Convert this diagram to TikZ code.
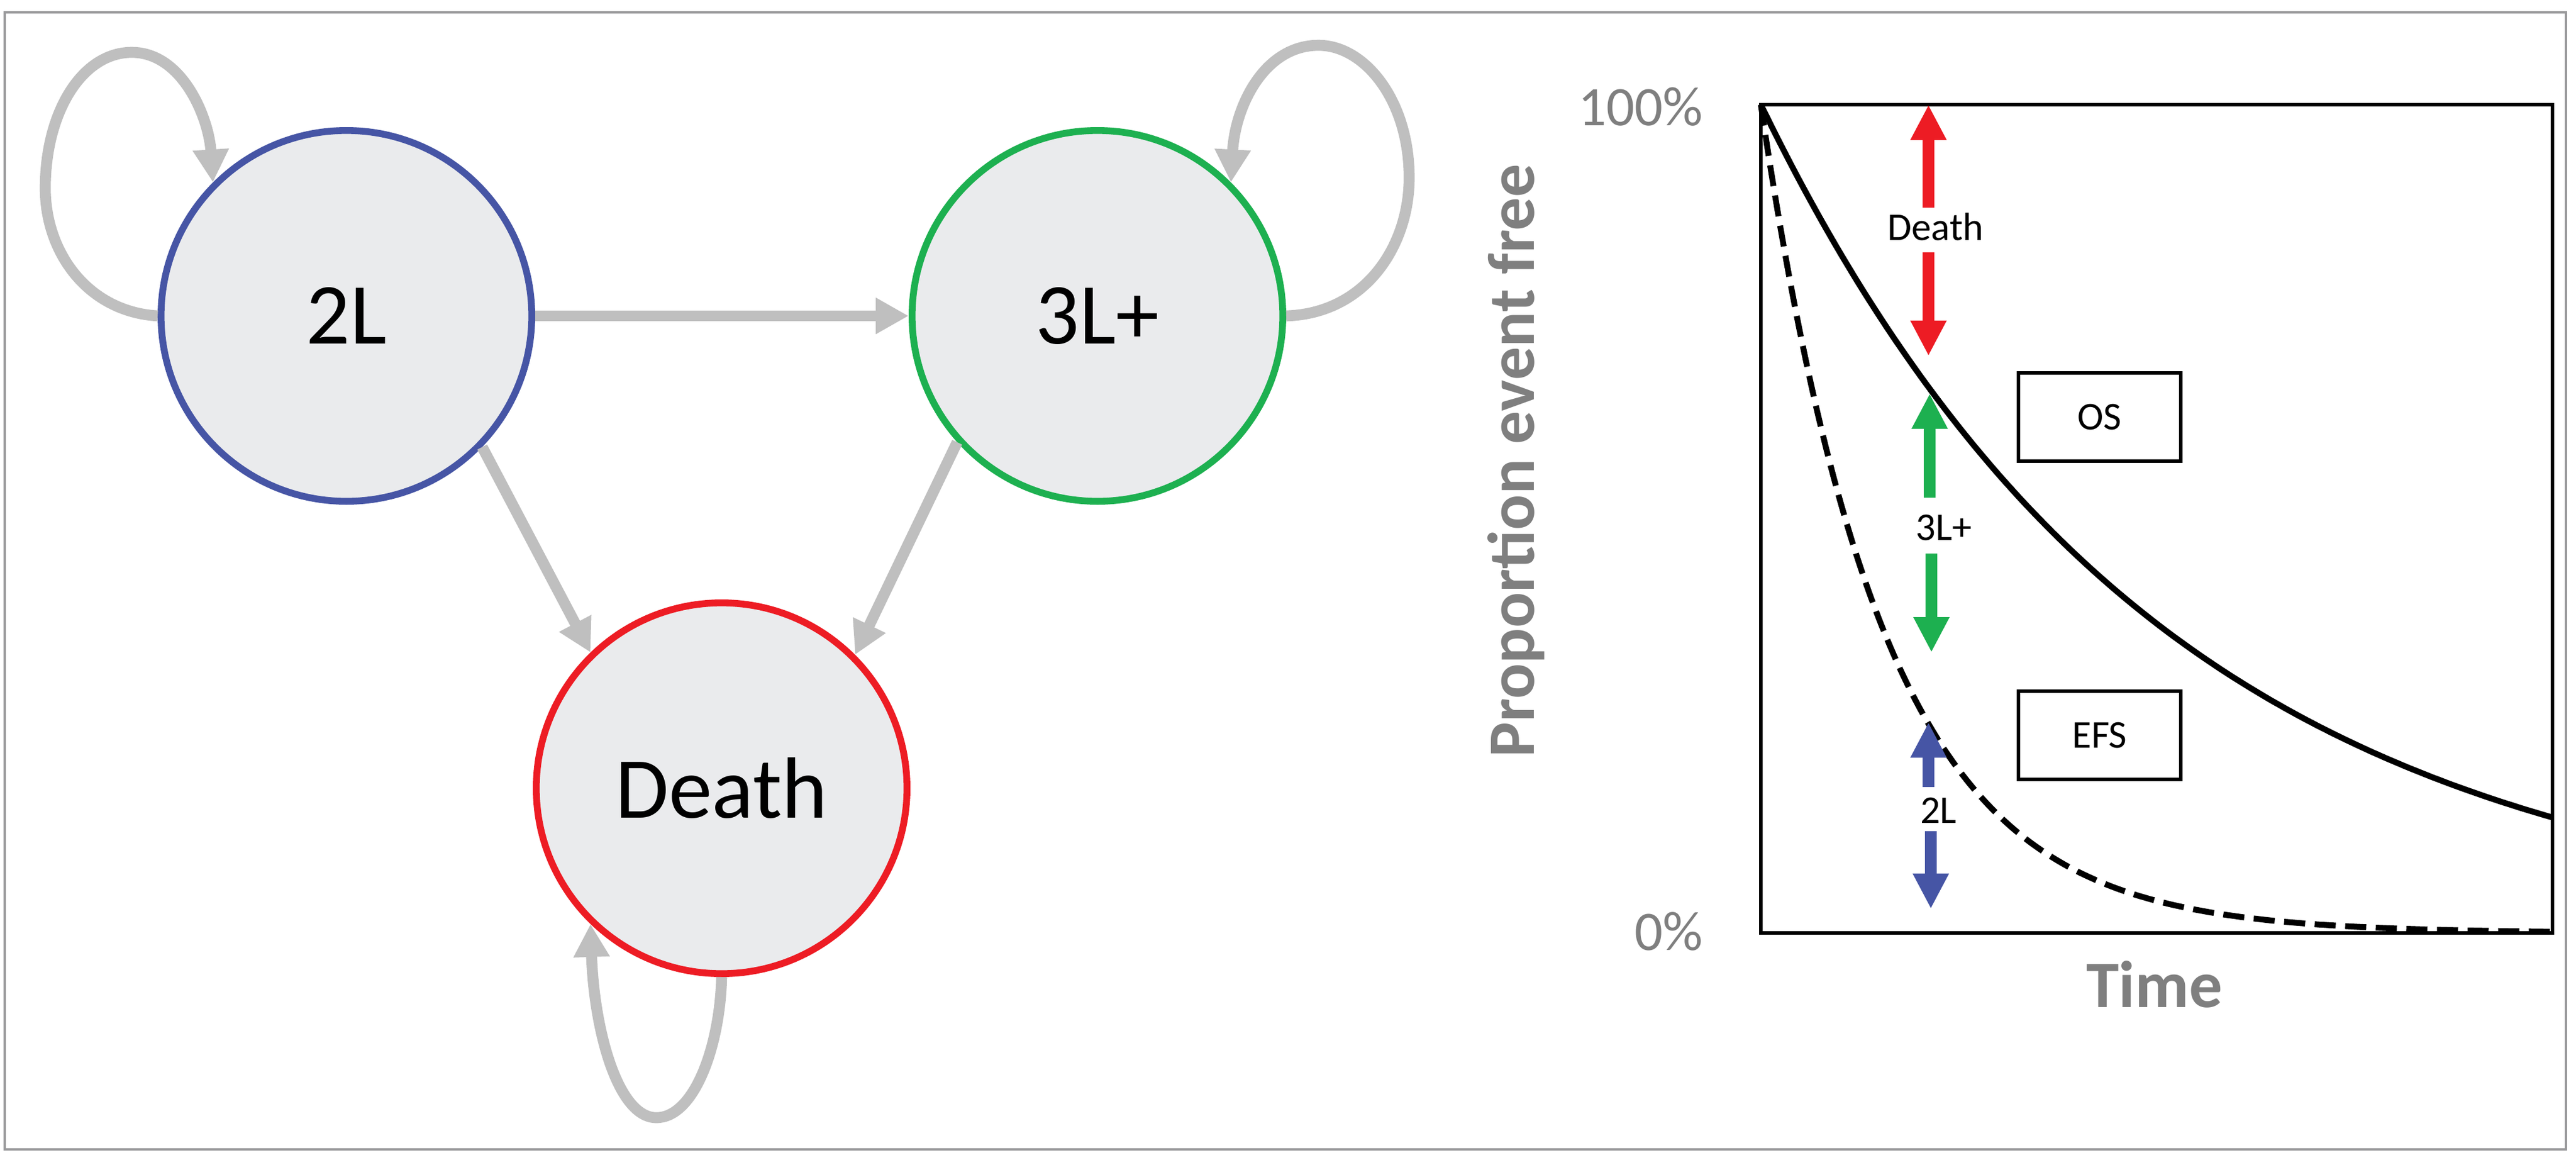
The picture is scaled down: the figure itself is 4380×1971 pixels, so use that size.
\documentclass[tikz,border=0pt]{standalone}
\usepackage{fontspec}
\setmainfont{Carlito}
\usetikzlibrary{arrows.meta}
\definecolor{bordergray}{RGB}{153,153,155}
\definecolor{conngray}{RGB}{191,191,191}
\definecolor{nodefill}{RGB}{234,235,237}
\definecolor{myblue}{RGB}{70,85,165}
\definecolor{mygreen}{RGB}{29,176,80}
\definecolor{myred}{RGB}{237,28,36}
\definecolor{labgray}{RGB}{127,127,127}
\begin{document}
\begin{tikzpicture}[x=0.01cm,y=-0.01cm,
  state/.style={circle, minimum size=6.3cm, inner sep=0pt, fill=nodefill, line width=3.3pt, font=\fontsize{42}{50}\selectfont},
  conn/.style={draw=conngray, line width=5.3pt, -{Triangle[length=15.9pt,width=16.5pt]}},
  carr/.style={line width=5.7pt, -{Triangle[length=17pt,width=16.2pt]}},
  smalllab/.style={font=\fontsize{19}{23}\selectfont, inner sep=0pt},
  legbox/.style={draw=black, line width=1.7pt, minimum width=2.76cm, minimum height=1.5cm, font=\fontsize{19}{23}\selectfont},
  axlab/.style={text=labgray, font=\fontsize{27}{32}\selectfont, inner sep=0pt},
  axtitle/.style={text=labgray, font=\bfseries\fontsize{32}{38}\selectfont, inner sep=0pt},
  curve/.style={line width=2.85pt, black}
]
\useasboundingbox (0,0) rectangle (4380,1971);
\draw[bordergray, line width=1.14pt] (8,21) rectangle (4363,1954);

% states
\node[state, draw=myblue] (L2) at (589,537) {2L};
\node[state, draw=mygreen] (L3) at (1866,537) {3L+};
\node[state, draw=myred] (D) at (1227,1340) {Death};

% transitions
\draw[conn] (L2.east) -- (L3.west);
\draw[conn] (L2.-44) -- (D.134);
\draw[conn] (L3.222) -- (D.45);
\draw[conn] (L2.180) .. controls (150,530) and (77,430) .. (77,320)
  .. controls (77,190) and (140,89) .. (224,89)
  .. controls (310,89) and (355,200) .. (L2.135);
\draw[conn] (L3.0) .. controls (2320,533) and (2396,420) .. (2396,302)
  .. controls (2396,170) and (2320,77) .. (2242,77)
  .. controls (2150,77) and (2100,180) .. (L3.45);
\draw[conn] (D.-90) .. controls (1224,1780) and (1180,1900) .. (1116,1900)
  .. controls (1050,1900) and (1010,1750) .. (D.226);

% plot
\draw[black, line width=1.7pt] (2994,178) rectangle (4340,1586);
\draw[curve] plot[domain=0:1, samples=120, smooth] ({2994+1346*\x}, {1586-1408*exp(-1.97*\x)});
\draw[curve, dash pattern=on 10.2pt off 4.6pt] plot[domain=0:1, samples=160, smooth] ({2994+1346*\x}, {1586-1408*exp(-6.5*\x)});

\node[axlab, anchor=east] (p100) at (2896,181) {100\%};
\node[axlab, anchor=east] (p0) at (2896,1583) {0\%};
\node[axtitle, rotate=90] (ylab) at (2578,783) {Proportion event free};
\node[axtitle] (xlab) at (3663,1673) {Time};

\node[legbox] (os) at (3570,709) {OS};
\node[legbox] (efs) at (3570,1250) {EFS};

% death arrow
\node[smalllab] (dl) at (3291,386) {Death};
\coordinate (d1) at (3279,353);
\coordinate (d2) at (3279,178);
\coordinate (d3) at (3279,429);
\coordinate (d4) at (3279,605);
\draw[carr, myred] (d1) -- (d2);
\draw[carr, myred] (d3) -- (d4);

% 3L+ arrow
\node[smalllab] (gl) at (3305,897) {3L+};
\coordinate (g1) at (3281,846);
\coordinate (g2) at (3281,669);
\coordinate (g3) at (3284,941);
\coordinate (g4) at (3284,1109);
\draw[carr, mygreen] (g1) -- (g2);
\draw[carr, mygreen] (g3) -- (g4);

% 2L arrow
\node[smalllab] (bl) at (3296,1378) {2L};
\coordinate (b1) at (3279,1338);
\coordinate (b2) at (3279,1228);
\coordinate (b3) at (3283,1413);
\coordinate (b4) at (3283,1545);
\draw[carr, myblue] (b1) -- (b2);
\draw[carr, myblue] (b3) -- (b4);
\end{tikzpicture}
\end{document}
